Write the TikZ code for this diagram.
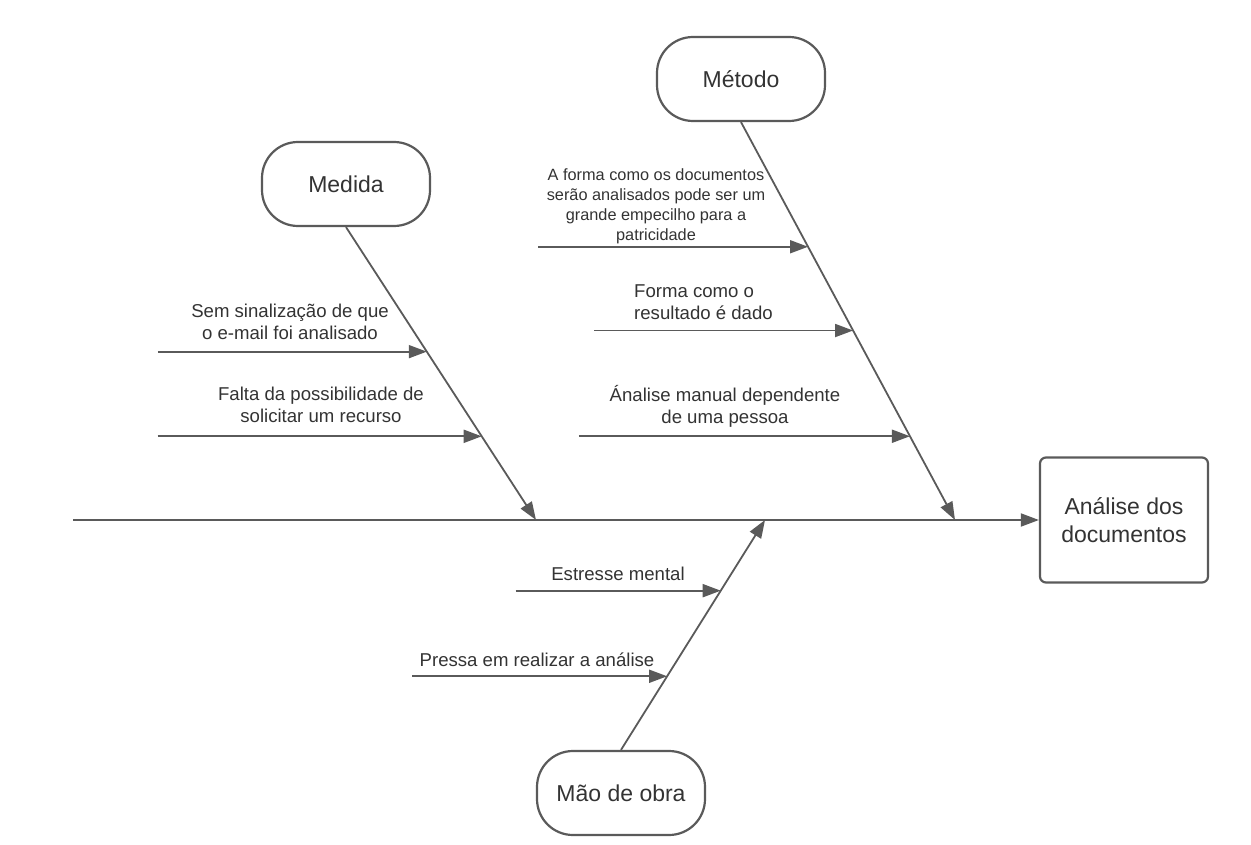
\documentclass[tikz,border=0pt]{standalone}
\usepackage{fontspec}
\setmainfont{Liberation Sans}
\usetikzlibrary{arrows.meta,calc}
\definecolor{linegray}{HTML}{5A5A5A}
\definecolor{textgray}{HTML}{333333}

\begin{document}
\begin{tikzpicture}[x=1pt,y=-1pt,
  cause/.style={draw=linegray,line width=2.2pt,rounded corners=36pt,minimum width=168pt,minimum height=84pt,text=textgray,font=\fontsize{23}{28}\selectfont},
  effect/.style={draw=linegray,line width=2.2pt,rounded corners=6pt,minimum width=168pt,minimum height=125pt,text=textgray,align=center,font=\fontsize{23}{28}\selectfont},
  bone/.style={draw=linegray,line width=1.8pt,-{Triangle[length=18pt,width=13pt]}},
  lbl/.style={text=textgray,align=center,inner sep=0pt,font=\fontsize{18.6}{22}\selectfont}]
\useasboundingbox (0,0) rectangle (1251,845);
% boxes
\node[cause] (metodo) at (741,79) {Método};
\node[cause] (medida) at (346,184) {Medida};
\node[cause] (mao) at (621,793) {Mão de obra};
\node[effect] (efeito) at (1124,520) {Análise dos\\documentos};
% spine
\coordinate (cauda) at (73,520);
\coordinate (mtip) at (955,520);
\coordinate (dtip) at (536,520);
\coordinate (otip) at (765,520);
\draw[bone] (cauda) -- (efeito.west);
\draw[bone] (metodo.south) -- (mtip);
\draw[bone] (medida.south) -- (dtip);
\draw[bone] (mao.north) -- (otip);
% Metodo
\coordinate (m1) at ($(metodo.south)!0.3133!(mtip)$);
\coordinate (m2) at ($(metodo.south)!0.5238!(mtip)$);
\coordinate (m3) at ($(metodo.south)!0.7895!(mtip)$);
\draw[bone] ([xshift=-270pt]m1) -- (m1);
\draw[bone] ([xshift=-259pt]m2) -- (m2);
\draw[bone] ([xshift=-331pt]m3) -- (m3);
\node[lbl,font=\fontsize{16.3}{20}\selectfont] (m1t) at (656,206) {A forma como os documentos\\serão analisados pode ser um\\grande empecilho para a\\patricidade};
\node[lbl,align=left,anchor=west] (m2t) at (634,302) {Forma como o\\resultado é dado};
\node[lbl] (m3t) at (725,406) {Ánalise manual dependente\\de uma pessoa};
% Medida
\coordinate (d1) at ($(medida.south)!0.4252!(dtip)$);
\coordinate (d2) at ($(medida.south)!0.7143!(dtip)$);
\draw[bone] ([xshift=-269pt]d1) -- (d1);
\draw[bone] ([xshift=-324pt]d2) -- (d2);
\node[lbl] (d1t) at (290,322) {Sem sinalização de que\\o e-mail foi analisado};
\node[lbl] (d2t) at (321,405) {Falta da possibilidade de\\solicitar um recurso};
% Mao de obra
\coordinate (o1) at ($(mao.north)!0.6926!(otip)$);
\coordinate (o2) at ($(mao.north)!0.3203!(otip)$);
\draw[bone] ([xshift=-205pt]o1) -- (o1);
\draw[bone] ([xshift=-255pt]o2) -- (o2);
\node[lbl] (o1t) at (618,574) {Estresse mental};
\node[lbl] (o2t) at (537,660) {Pressa em realizar a análise};
\end{tikzpicture}
\end{document}
